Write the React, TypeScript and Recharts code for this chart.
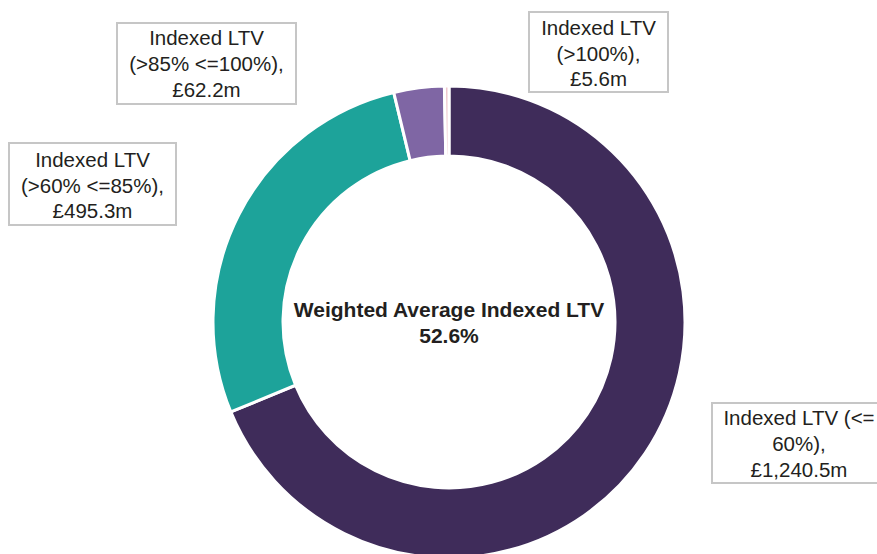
import React from 'react';
import { PieChart, Pie, Cell } from 'recharts';

const categories = ['Indexed LTV (<=60%)', 'Indexed LTV (>60% <=85%)', 'Indexed LTV (>85% <=100%)', 'Indexed LTV (>100%)'];
const balances = [1240.5, 495.3, 62.2, 5.6];
const colors = ['#3F2C5A', '#1DA39A', '#7F66A4', '#EFC7CD'];
const labelLines = [
    ['Indexed LTV (<=', '60%),', '£1,240.5m'],
    ['Indexed LTV', '(>60% <=85%),', '£495.3m'],
    ['Indexed LTV', '(>85% <=100%),', '£62.2m'],
    ['Indexed LTV', '(>100%),', '£5.6m'],
];
const centreTitle = 'Weighted Average Indexed LTV';
const centreValue = '52.6%';

// callout boxes, placed like the original
const boxes = [
    { x: 712, y: 403, w: 176, h: 80, cx: 799, base: 425, step: 26 },
    { x: 9, y: 143, w: 167, h: 82, cx: 92.5, base: 167, step: 25.5 },
    { x: 117, y: 23, w: 179, h: 81, cx: 206.5, base: 45, step: 26 },
    { x: 529, y: 12, w: 139, h: 80, cx: 598.5, base: 35, step: 25.5 },
];

const data = categories.map((name, i) => ({ name, value: balances[i] }));

const font = '"Liberation Sans", Arial, Helvetica, sans-serif';

function renderLabel(props: any) {
    const i = props.index;
    const b = boxes[i];
    return (
        <g key={`lbl-${i}`}>
            <rect x={b.x} y={b.y} width={b.w} height={b.h} fill="#fff" stroke="#C6C6C6" strokeWidth={2} />
            {labelLines[i].map((t, j) => (
                <text key={j} x={b.cx} y={b.base + j * b.step} textAnchor="middle" fontSize={20.5} fill="#231F20" fontFamily={font}>
                    {t}
                </text>
            ))}
        </g>
    );
}

export default function App() {
    return (
        <div style={{ position: 'absolute', left: 0, top: 0, width: 877, height: 554, background: '#fff' }}>
            <PieChart width={877} height={554} margin={{ top: 0, right: 0, bottom: 0, left: 0 }}>
                <Pie
                    data={data}
                    dataKey="value"
                    nameKey="name"
                    cx={449}
                    cy={322}
                    innerRadius={166}
                    outerRadius={236}
                    startAngle={90}
                    endAngle={-270}
                    stroke="#fff"
                    strokeWidth={3}
                    label={renderLabel}
                    labelLine={false}
                    isAnimationActive={false}
                >
                    {data.map((d, i) => (
                        <Cell key={d.name} fill={colors[i]} />
                    ))}
                </Pie>
                <text x={449} y={317} textAnchor="middle" fontSize={21} fontWeight="bold" fill="#231F20" fontFamily={font}>
                    {centreTitle}
                </text>
                <text x={449} y={343} textAnchor="middle" fontSize={21} fontWeight="bold" fill="#231F20" fontFamily={font}>
                    {centreValue}
                </text>
            </PieChart>
        </div>
    );
}
